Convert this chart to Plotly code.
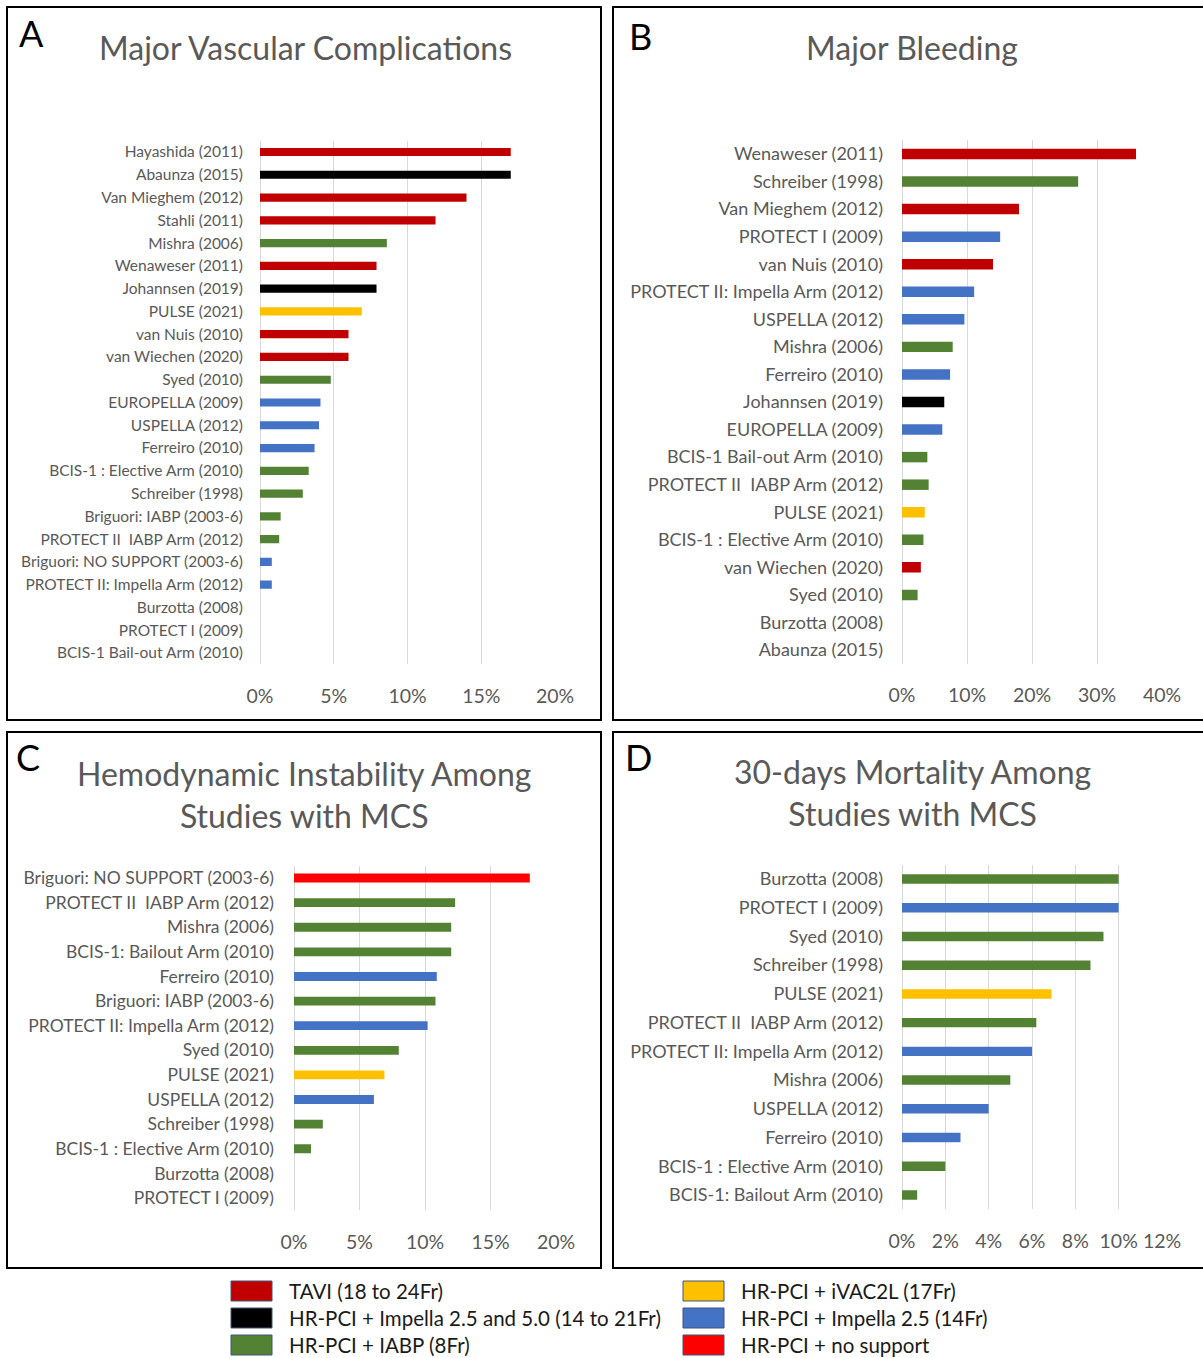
import plotly.graph_objects as go

# ---------------- DATA ----------------
group_names = ["TAVI (18 to 24Fr)", "HR-PCI + Impella 2.5 and 5.0 (14 to 21Fr)", "HR-PCI + IABP (8Fr)",
               "HR-PCI + iVAC2L (17Fr)", "HR-PCI + Impella 2.5 (14Fr)", "HR-PCI + no support"]
group_colors = ["#C00000", "#000000", "#548235", "#FFC000", "#4472C4", "#FF0000"]
cmap = dict(zip(["TAVI", "IMP25_50", "IABP", "IVAC", "IMP25", "NONE"], group_colors))

# Panel A: Major Vascular Complications
a_studies = ["Hayashida (2011)", "Abaunza (2015)", "Van Mieghem (2012)", "Stahli (2011)", "Mishra (2006)",
             "Wenaweser (2011)", "Johannsen (2019)", "PULSE (2021)", "van Nuis (2010)", "van Wiechen (2020)",
             "Syed (2010)", "EUROPELLA (2009)", "USPELLA (2012)", "Ferreiro (2010)",
             "BCIS-1 : Elective Arm (2010)", "Schreiber (1998)", "Briguori: IABP (2003-6)",
             "PROTECT II  IABP Arm (2012)", "Briguori: NO SUPPORT (2003-6)", "PROTECT II: Impella Arm (2012)",
             "Burzotta (2008)", "PROTECT I (2009)", "BCIS-1 Bail-out Arm (2010)"]
a_values = [0.170, 0.170, 0.140, 0.119, 0.086, 0.079, 0.079, 0.069, 0.060, 0.060, 0.048, 0.041, 0.040,
            0.037, 0.033, 0.029, 0.014, 0.013, 0.008, 0.008, 0.0, 0.0, 0.0]
a_groups = ["TAVI", "IMP25_50", "TAVI", "TAVI", "IABP", "TAVI", "IMP25_50", "IVAC", "TAVI", "TAVI", "IABP",
            "IMP25", "IMP25", "IMP25", "IABP", "IABP", "IABP", "IABP", "IMP25", "IMP25", "IABP", "IMP25", "IABP"]

# Panel B: Major Bleeding
b_studies = ["Wenaweser (2011)", "Schreiber (1998)", "Van Mieghem (2012)", "PROTECT I (2009)", "van Nuis (2010)",
             "PROTECT II: Impella Arm (2012)", "USPELLA (2012)", "Mishra (2006)", "Ferreiro (2010)",
             "Johannsen (2019)", "EUROPELLA (2009)", "BCIS-1 Bail-out Arm (2010)", "PROTECT II  IABP Arm (2012)",
             "PULSE (2021)", "BCIS-1 : Elective Arm (2010)", "van Wiechen (2020)", "Syed (2010)",
             "Burzotta (2008)", "Abaunza (2015)"]
b_values = [0.360, 0.271, 0.180, 0.151, 0.140, 0.111, 0.096, 0.078, 0.074, 0.065, 0.062, 0.039, 0.041,
            0.035, 0.033, 0.029, 0.024, 0.0, 0.0]
b_groups = ["TAVI", "IABP", "TAVI", "IMP25", "TAVI", "IMP25", "IMP25", "IABP", "IMP25", "IMP25_50", "IMP25",
            "IABP", "IABP", "IVAC", "IABP", "TAVI", "IABP", "IABP", "IMP25_50"]

# Panel C: Hemodynamic Instability Among Studies with MCS
c_studies = ["Briguori: NO SUPPORT (2003-6)", "PROTECT II  IABP Arm (2012)", "Mishra (2006)",
             "BCIS-1: Bailout Arm (2010)", "Ferreiro (2010)", "Briguori: IABP (2003-6)",
             "PROTECT II: Impella Arm (2012)", "Syed (2010)", "PULSE (2021)", "USPELLA (2012)",
             "Schreiber (1998)", "BCIS-1 : Elective Arm (2010)", "Burzotta (2008)", "PROTECT I (2009)"]
c_values = [0.180, 0.123, 0.120, 0.120, 0.109, 0.108, 0.102, 0.080, 0.069, 0.061, 0.022, 0.013, 0.0, 0.0]
c_groups = ["NONE", "IABP", "IABP", "IABP", "IMP25", "IABP", "IMP25", "IABP", "IVAC", "IMP25", "IABP", "IABP",
            "IABP", "IMP25"]

# Panel D: 30-days Mortality Among Studies with MCS
d_studies = ["Burzotta (2008)", "PROTECT I (2009)", "Syed (2010)", "Schreiber (1998)", "PULSE (2021)",
             "PROTECT II  IABP Arm (2012)", "PROTECT II: Impella Arm (2012)", "Mishra (2006)", "USPELLA (2012)",
             "Ferreiro (2010)", "BCIS-1 : Elective Arm (2010)", "BCIS-1: Bailout Arm (2010)"]
d_values = [0.100, 0.100, 0.093, 0.087, 0.069, 0.062, 0.060, 0.050, 0.040, 0.027, 0.020, 0.007]
d_groups = ["IABP", "IMP25", "IABP", "IABP", "IVAC", "IABP", "IMP25", "IABP", "IMP25", "IMP25", "IABP", "IABP"]

W, H = 1203, 1358
def px(x): return x / W
def py(y): return 1 - y / H

FONT = "Lato, 'Open Sans', sans-serif"
GREY = "#595959"

panels = [
    # studies, values, groups, xdomain(px), ydomain(px top,bottom), xmax, dtick, labelsize, bar width, standoff
    (a_studies, a_values, a_groups, (260, 555), (140.6, 664.4), 0.20, 0.05, 15.5, 0.36, 16),
    (b_studies, b_values, b_groups, (902, 1162), (140.2, 663.8), 0.40, 0.10, 18, 0.38, 18),
    (c_studies, c_values, c_groups, (294, 556), (865.7, 1210.3), 0.20, 0.05, 17.5, 0.36, 19),
    (d_studies, d_values, d_groups, (902, 1162), (864.6, 1209.4), 0.12, 0.02, 18, 0.33, 18),
]

fig = go.Figure()
for i, (st, vals, grps, xd, yd, xmax, dt, fs, bw, so) in enumerate(panels):
    n = i + 1
    xa = "x" if n == 1 else f"x{n}"
    ya = "y" if n == 1 else f"y{n}"
    fig.add_trace(go.Bar(
        x=vals, y=st, orientation="h", width=bw,
        marker=dict(color=[cmap[g] for g in grps], line=dict(width=0)),
        xaxis=xa, yaxis=ya, showlegend=False, hoverinfo="x+y"))
    xkey = "xaxis" if n == 1 else f"xaxis{n}"
    ykey = "yaxis" if n == 1 else f"yaxis{n}"
    fig.update_layout(**{
        xkey: dict(domain=[px(xd[0]), px(xd[1])], range=[0, xmax], dtick=dt, tick0=0,
                   tickformat=".0%", showgrid=True, gridcolor="#d9d9d9", gridwidth=1,
                   zeroline=True, zerolinecolor="#d9d9d9", zerolinewidth=1,
                   showline=False, ticks="", anchor=ya, automargin=False,
                   tickfont=dict(family=FONT, size=19.5, color=GREY),
                   ticklabelstandoff=18, fixedrange=True),
        ykey: dict(domain=[py(yd[1]), py(yd[0])], type="category", categoryorder="array",
                   categoryarray=st, autorange="reversed", showgrid=False, zeroline=False,
                   showline=False, ticks="", anchor=xa, automargin=False,
                   tickfont=dict(family=FONT, size=fs, color=GREY),
                   ticklabelstandoff=so, fixedrange=True),
    })

shapes = []
# Panel borders
for (x0, y0, x1, y1) in [(7, 7, 601, 720), (613, 7, 1210, 720), (7, 732, 601, 1268), (613, 732, 1210, 1268)]:
    shapes.append(dict(type="rect", xref="paper", yref="paper", x0=px(x0), x1=px(x1), y0=py(y1), y1=py(y0),
                       line=dict(color="#000000", width=2), fillcolor="rgba(0,0,0,0)"))

annotations = []
titles = [("Major Vascular Complications", 305, 48), ("Major Bleeding", 912, 48),
          ("Hemodynamic Instability Among<br>Studies with MCS", 304, 794),
          ("30-days Mortality Among<br>Studies with MCS", 912, 792)]
for t, x, y in titles:
    annotations.append(dict(text=t, x=px(x), y=py(y), xref="paper", yref="paper", showarrow=False,
                            xanchor="center", yanchor="middle", align="center",
                            font=dict(family=FONT, size=32, color=GREY)))
for t, x, y in [("A", 31, 33), ("B", 640, 36), ("C", 28, 757), ("D", 638, 757)]:
    annotations.append(dict(text=t, x=px(x), y=py(y), xref="paper", yref="paper", showarrow=False,
                            xanchor="center", yanchor="middle",
                            font=dict(family=FONT, size=36, color="#000000")))

# Legend (manual, two columns)
leg_pos = [(231, 1291), (231, 1318), (231, 1345), (683, 1291), (683, 1318), (683, 1345)]
for k, (lx, ly) in enumerate(leg_pos):
    shapes.append(dict(type="rect", xref="paper", yref="paper", x0=px(lx), x1=px(lx + 41),
                       y0=py(ly + 10), y1=py(ly - 10), fillcolor=group_colors[k],
                       line=dict(color="#41557a", width=1)))
    annotations.append(dict(text=group_names[k], x=px(lx + 56), y=py(ly), xref="paper", yref="paper",
                            showarrow=False, xanchor="left", yanchor="middle",
                            font=dict(family=FONT, size=20.5, color="#1a1a1a")))

fig.update_layout(template="none", width=W, height=H, margin=dict(l=0, r=0, t=0, b=0, pad=0, autoexpand=False),
                  paper_bgcolor="#ffffff", plot_bgcolor="#ffffff",
                  shapes=shapes, annotations=annotations, bargap=0.6, showlegend=False)

fig.write_html("out.html")
